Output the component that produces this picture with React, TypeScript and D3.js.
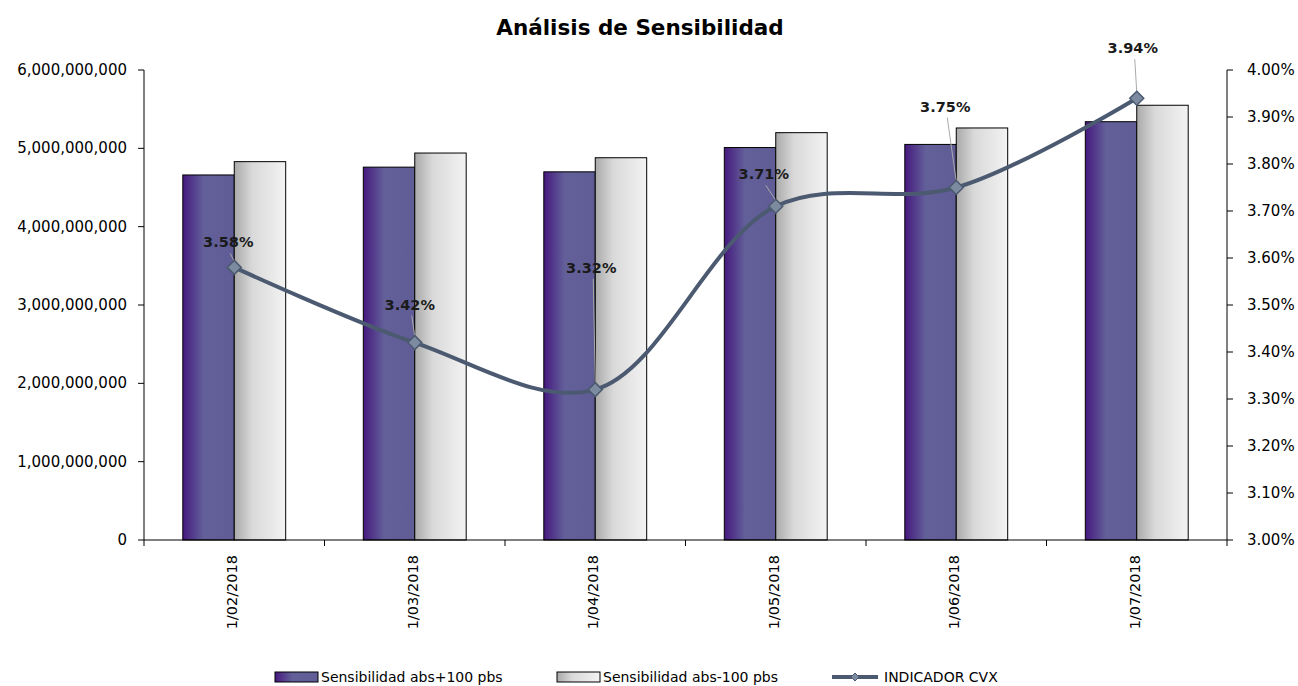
import React from "react";
import * as d3 from "d3";

const categories = ["1/02/2018", "1/03/2018", "1/04/2018", "1/05/2018", "1/06/2018", "1/07/2018"];
const sensUp = [4.66e9, 4.76e9, 4.70e9, 5.01e9, 5.05e9, 5.34e9];
const sensDown = [4.83e9, 4.94e9, 4.88e9, 5.20e9, 5.26e9, 5.55e9];
const cvx = [3.58, 3.42, 3.32, 3.71, 3.75, 3.94];
const leftTicks = [0, 1e9, 2e9, 3e9, 4e9, 5e9, 6e9];
const rightTicks = [3.0, 3.1, 3.2, 3.3, 3.4, 3.5, 3.6, 3.7, 3.8, 3.9, 4.0];
const seriesNames = ["Sensibilidad abs+100 pbs", "Sensibilidad abs-100 pbs", "INDICADOR CVX"];

// label placement offsets (layout only)
const labelOffsets = [
  [-6, -20], [-5, -33], [-4, -117], [-12, -27], [-11, -76], [-4, -45],
];

const W = 1298, H = 686;
const left = 144, right = 1227, top = 70, bottom = 540;
const FONT = "'DejaVu Sans', sans-serif";

export default function App() {
  const x = d3.scaleBand<string>().domain(categories).range([left, right]).paddingInner(0).paddingOuter(0);
  const yL = d3.scaleLinear().domain([0, 6e9]).range([bottom, top]);
  const yR = d3.scaleLinear().domain([3.0, 4.0]).range([bottom, top]);
  const bw = x.bandwidth();
  const barW = bw * 0.285;
  const fmtL = d3.format(",");
  const pts: [number, number][] = cvx.map((v, i) => [x(categories[i])! + bw / 2, yR(v)]);
  const line = d3.line().curve(d3.curveCatmullRom.alpha(0.5))(pts) || "";
  const lineColor = "#4b5a70";
  const diamond = (cx: number, cy: number, r: number) =>
    `M${cx},${cy - r}L${cx + r},${cy}L${cx},${cy + r}L${cx - r},${cy}Z`;

  return (
    <svg width={W} height={H} style={{ display: "block", position: "absolute", left: 0, top: 0 }} fontFamily={FONT}>
      <defs>
        <linearGradient id="gPurple" x1="0" x2="1" y1="0" y2="0">
          <stop offset="0%" stopColor="#46197f" />
          <stop offset="40%" stopColor="#625f99" />
          <stop offset="100%" stopColor="#5f5c96" />
        </linearGradient>
        <linearGradient id="gGrey" x1="0" x2="1" y1="0" y2="0">
          <stop offset="0%" stopColor="#a9a9a9" />
          <stop offset="35%" stopColor="#d9d9d9" />
          <stop offset="100%" stopColor="#f3f3f3" />
        </linearGradient>
      </defs>
      <rect width={W} height={H} fill="#fff" />
      <text x={640} y={35} textAnchor="middle" fontWeight="bold" fontSize={21.5} fill="#000">Análisis de Sensibilidad</text>

      {/* bars */}
      {categories.map((c, i) => {
        const cx = x(c)! + bw / 2;
        return (
          <g key={c}>
            <rect x={cx - barW} y={yL(sensUp[i])} width={barW} height={bottom - yL(sensUp[i])} fill="url(#gPurple)" stroke="#000" strokeWidth={1} />
            <rect x={cx} y={yL(sensDown[i])} width={barW} height={bottom - yL(sensDown[i])} fill="url(#gGrey)" stroke="#000" strokeWidth={1} />
          </g>
        );
      })}

      {/* left axis */}
      <line x1={left} x2={left} y1={top} y2={bottom} stroke="#000" />
      {leftTicks.map((t) => (
        <g key={t}>
          <line x1={left - 6} x2={left} y1={yL(t)} y2={yL(t)} stroke="#000" />
          <text x={127} y={yL(t) + 5} textAnchor="end" fontSize={15} fill="#000">{fmtL(t)}</text>
        </g>
      ))}
      {/* right axis */}
      <line x1={right} x2={right} y1={top} y2={bottom} stroke="#000" />
      {rightTicks.map((t) => (
        <g key={t}>
          <line x1={right} x2={right + 6} y1={yR(t)} y2={yR(t)} stroke="#000" />
          <text x={1247} y={yR(t) + 5} textAnchor="start" fontSize={15} fill="#000">{t.toFixed(2)}%</text>
        </g>
      ))}
      {/* bottom axis */}
      <line x1={left} x2={right} y1={bottom} y2={bottom} stroke="#000" />
      {categories.concat([""]).map((c, i) => {
        const xx = left + i * bw;
        return <line key={"t" + i} x1={xx} x2={xx} y1={bottom} y2={bottom + 6} stroke="#000" />;
      })}
      {categories.map((c) => {
        const cx = x(c)! + bw / 2;
        return (
          <text key={"l" + c} transform={`translate(${cx + 3},${555}) rotate(-90)`} textAnchor="end" fontSize={14.5} fill="#000">{c}</text>
        );
      })}

      {/* line */}
      <path d={line} fill="none" stroke={lineColor} strokeWidth={4} />
      {/* leader lines + labels */}
      {pts.map(([px, py], i) => {
        const [dx, dy] = labelOffsets[i];
        const lx = px + dx, ly = py + dy;
        const dist = Math.abs(dy);
        return (
          <g key={"d" + i}>
            {dist > 15 && <line x1={lx + 2} y1={ly + 6} x2={px} y2={py - 6} stroke="#aaa" strokeWidth={1} />}
          </g>
        );
      })}
      {pts.map(([px, py], i) => (
        <path key={"m" + i} d={diamond(px, py, 7)} fill="#7d8ba0" stroke={lineColor} strokeWidth={1.5} />
      ))}
      {pts.map(([px, py], i) => {
        const [dx, dy] = labelOffsets[i];
        return (
          <text key={"t" + i} x={px + dx} y={py + dy} textAnchor="middle" fontSize={14.5} fontWeight="bold" fill="#1a1a1a">{cvx[i].toFixed(2)}%</text>
        );
      })}

      {/* legend */}
      <rect x={275} y={672} width={43} height={10} fill="url(#gPurple)" stroke="#000" />
      <text x={321} y={682} fontSize={14} fill="#000">{seriesNames[0]}</text>
      <rect x={557} y={672} width={43} height={10} fill="url(#gGrey)" stroke="#000" />
      <text x={603} y={682} fontSize={14} fill="#000">{seriesNames[1]}</text>
      <line x1={832} x2={878} y1={677} y2={677} stroke={lineColor} strokeWidth={4} />
      <path d={diamond(855, 677, 4)} fill="#7d8ba0" stroke={lineColor} strokeWidth={1} />
      <text x={884} y={682} fontSize={14} fill="#000">{seriesNames[2]}</text>
    </svg>
  );
}
